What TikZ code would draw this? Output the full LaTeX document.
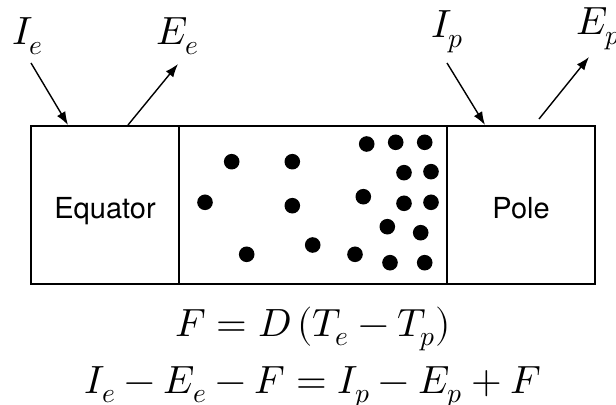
\documentclass[tikz,border=0pt]{standalone}
\usepackage{unicode-math}
\setmainfont{TeX Gyre Heros}
\setmathfont{Latin Modern Math}
\usetikzlibrary{arrows.meta}
\tikzset{
  flowarrow/.style={-{Latex[length=3.3mm,width=2.4mm]},line width=1pt},
  region/.style={draw,line width=1.3pt,minimum height=3.95cm,inner sep=0pt,
    font=\fontsize{20.6}{24}\selectfont,text height=18.5pt,text depth=0pt},
  fluxlbl/.style={anchor=base west,inner sep=0pt,font=\fontsize{28}{33}\selectfont},
  eqn/.style={anchor=base,inner sep=0pt,font=\fontsize{28}{33}\selectfont},
  dot/.style={circle,fill,minimum size=0.39cm,inner sep=0pt,draw=none},
}

\begin{document}
\begin{tikzpicture}[x=0.025cm,y=-0.025cm]
    \useasboundingbox (0,0) rectangle (616,405);

    % the three boxes
    \node[region,minimum width=3.7cm] (equator) at (105,205) {Equator};
    \node[region,minimum width=6.7cm] (mixing) at (313,205) {};
    \node[region,minimum width=3.7cm] (pole) at (521,205) {Pole};

    % fluxes in and out
    \node[fluxlbl] (ie) at (12,45) {$I_e$};
    \node[fluxlbl] (ee) at (156,45) {$E_e$};
    \node[fluxlbl] (ip) at (431,38) {$I_p$};
    \node[fluxlbl] (ep) at (576,35) {$E_p$};

    \coordinate (iefrom) at (31,63);
    \coordinate (ieto) at (68,125);
    \coordinate (eefrom) at (128,125);
    \coordinate (eeto) at (178,64);
    \coordinate (ipfrom) at (447,63);
    \coordinate (ipto) at (485,125);
    \coordinate (epfrom) at (539,119);
    \coordinate (epto) at (589,57);
    \draw[flowarrow] (iefrom) -- (ieto);
    \draw[flowarrow] (eefrom) -- (eeto);
    \draw[flowarrow] (ipfrom) -- (ipto);
    \draw[flowarrow] (epfrom) -- (epto);

    % particles
    \foreach \px/\py [count=\i] in {231.7/161.7, 292.3/161.7, 366.7/144, 395.7/142.3,
        424.7/142.3, 404/172.7, 431/171.7, 205/202.3, 292.3/205.7, 363.3/196.7,
        404/203.3, 431/202.3, 387.3/226.7, 420.7/232.7, 312.7/245, 246.7/254.3,
        355/254.3, 390/262.7, 424.7/262.7}
      \node[dot] (dot\i) at (\px,\py) {};

    % equations
    \node[eqn] (flux) at (313,336) {$F = D\,(T_e - T_p)$};
    \node[eqn] (budget) at (313,393) {$I_e - E_e - F = I_p - E_p + F$};
  \end{tikzpicture}
\end{document}
